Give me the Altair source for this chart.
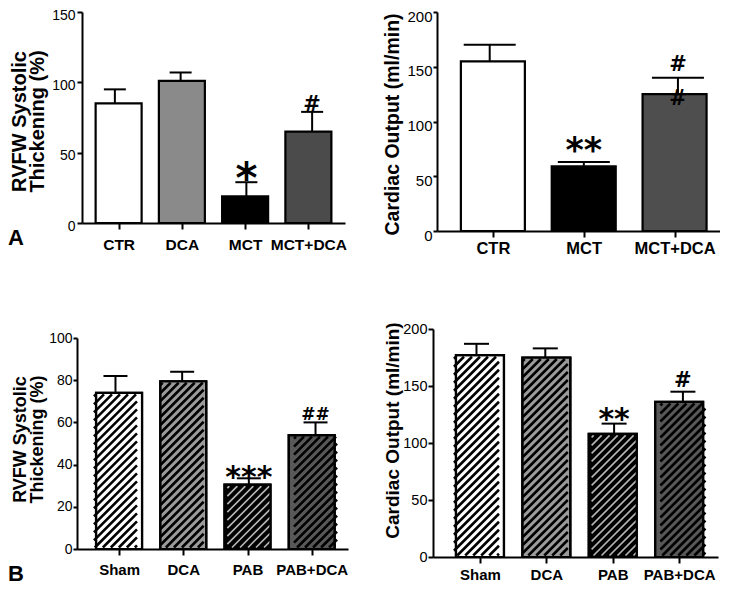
import json
import altair as alt
import numpy as np
import pandas as pd

# ---------------- data ----------------
a1_cats = ["CTR", "DCA", "MCT", "MCT+DCA"]
a1_vals = [85, 101, 19, 65]
a1_errs = [10, 6, 10, 14]
a1_sig = ["", "", "*", "#"]

a2_cats = ["CTR", "MCT", "MCT+DCA"]
a2_vals = [155, 59, 125]
a2_errs = [15, 4, 15]
a2_sig = ["", "**", "#"]
a2_sig_bar = ["", "", "#"]

b1_cats = ["Sham", "DCA", "PAB", "PAB+DCA"]
b1_vals = [74, 79.5, 30.5, 54]
b1_errs = [8, 4.5, 3, 6]
b1_sig = ["", "", "***", "##"]

b2_cats = ["Sham", "DCA", "PAB", "PAB+DCA"]
b2_vals = [177, 175, 108, 136]
b2_errs = [10, 8, 9, 9]
b2_sig = ["", "", "**", "#"]

title_rvfw = ["RVFW Systolic", "Thickening (%)"]
title_co = "Cardiac Output (ml/min)"

# ---------------- styles / layout ----------------
W, H = 712, 578
FONT = "Liberation Sans"
SIGFONT = "DejaVu Sans"

st_a1 = dict(xr=[74, 337], yr=[215, 4], xd=[-0.5, 3.5], ymax=150, yticks=[0, 50, 100, 150],
             bw=46, cap=22, fills=["white", "#8a8a8a", "black", "#4b4b4b"],
             title=title_rvfw, tfs=20, tlh=18, tx=-53, ty=113, ylfs=14, ytick=5, ylpad=2, yloff=3,
             xlfs=15.5, xlpad=8, sigfs={"*": 42, "#": 21}, gaps=[0, 0, 12, 8])
st_a2 = dict(xr=[429, 717], yr=[223, 4], xd=[-0.56, 2.5], ymax=200, yticks=[0, 50, 100, 150, 200],
             bw=64, cap=52, fills=["white", "black", "#4e4e4e"],
             title=title_co, tfs=19.5, tlh=20, tx=-35, ty=116, ylfs=15, ytick=4, ylpad=1, yloff=4,
             xlfs=16.5, xlpad=3, sigfs={"**": 35, "#": 21}, gaps=[0, 19, 14])
st_b1 = dict(xr=[69, 340], yr=[541, 330], xd=[-0.577, 3.487], ymax=100, yticks=[0, 20, 40, 60, 80, 100],
             bw=46, cap=24, fills=["white", "#9b9b9b", "black", "#585858"],
             hatch=["black", "black", "#b8b8b8", "black"], hw=[2.6, 2.6, 1.6, 2.6],
             title=title_rvfw, tfs=18, tlh=17, tx=-48, ty=431, ylfs=14, ytick=4, ylpad=1, yloff=0,
             xlfs=15, xlpad=7, sigfs={"***": 30, "##": 17}, gaps=[0, 0, 8, 9])
st_b2 = dict(xr=[425, 710], yr=[549, 321], xd=[-0.632, 3.51], ymax=200, yticks=[0, 50, 100, 150, 200],
             bw=48, cap=25, fills=["white", "#9b9b9b", "black", "#585858"],
             hatch=["black", "black", "#b8b8b8", "black"], hw=[2.6, 2.6, 1.6, 2.6],
             title=title_co, tfs=19, tlh=20, tx=-31, ty=422, ylfs=14.5, ytick=5, ylpad=1, yloff=0,
             xlfs=15, xlpad=4, sigfs={"**": 30, "#": 21}, gaps=[0, 0, 11, 12])

GLYPH_CENTER = {"*": 0.54, "#": 0.36}


def hatch_rows(vals, st, period=8.0, inset=1.5):
    xr, xd, yr, ymax = st["xr"], st["xd"], st["yr"], st["ymax"]
    sx = (xr[1] - xr[0]) / (xd[1] - xd[0])
    sy = (yr[0] - yr[1]) / ymax
    rows = []
    for i, v in enumerate(vals):
        cx = xr[0] + (i - xd[0]) * sx
        bx0, bx1 = cx - st["bw"] / 2 + inset, cx + st["bw"] / 2 - inset
        ytop, ybot = yr[0] - v * sy + inset, yr[0] - inset
        for c in np.arange(bx0 + ytop + 2, bx1 + ybot, period):
            lo = max(bx0, c - ybot)
            hi = min(bx1, c - ytop)
            if hi - lo < 0.6:
                continue
            rows.append(dict(
                hx=xd[0] + (lo - xr[0]) / sx, hy=(yr[0] - (c - lo)) / sy,
                hx2=xd[0] + (hi - xr[0]) / sx, hy2=(yr[0] - (c - hi)) / sy,
                hc=st["hatch"][i], hwid=st["hw"][i]))
    return pd.DataFrame(rows)


def panel(cats, vals, errs, sig, st, sig_bar=None):
    n = len(cats)
    df = pd.DataFrame({"i": list(range(n)), "v": vals, "e": errs, "fill": st["fills"]})
    xs = alt.Scale(domain=st["xd"], range=st["xr"], nice=False, zero=False)
    ys = alt.Scale(domain=[0, st["ymax"]], range=st["yr"], nice=False, zero=False)
    sx = (st["xr"][1] - st["xr"][0]) / (st["xd"][1] - st["xd"][0])
    half = st["cap"] / 2 / sx

    xaxis = alt.Axis(orient="bottom", offset=st["yr"][0] - H, values=list(range(n)),
                     labelExpr=json.dumps(cats) + "[datum.value]", title=None, grid=False,
                     domainColor="black", domainWidth=2, tickColor="black", tickWidth=2, tickSize=6,
                     labelFont=FONT, labelFontWeight="bold", labelFontSize=st["xlfs"],
                     labelColor="black", labelPadding=st["xlpad"], labelFlush=False,
                     labelOverlap=False)
    yaxis = alt.Axis(orient="left", offset=-st["xr"][0], values=st["yticks"], format="d",
                     title=st["title"], grid=False, domainColor="black", domainWidth=2,
                     tickColor="black", tickWidth=2, tickSize=st["ytick"],
                     labelFont=FONT, labelFontSize=st["ylfs"], labelColor="black",
                     labelPadding=st["ylpad"], labelOffset=st["yloff"],
                     labelFlush=False, labelOverlap=False,
                     titleFont=FONT, titleFontSize=st["tfs"], titleFontWeight="bold",
                     titleColor="black", titleAngle=270, titleAlign="center",
                     titleBaseline="bottom", titleX=st["tx"], titleY=st["ty"],
                     titleLineHeight=st["tlh"])

    base = alt.Chart(df)
    xq = alt.X("i:Q", scale=xs, axis=None)

    bars = base.mark_bar(orient="vertical", size=st["bw"], stroke="black", strokeWidth=2.2).encode(
        x=alt.X("i:Q", scale=xs, axis=xaxis),
        y=alt.Y("v:Q", scale=ys, axis=yaxis, stack=None),
        fill=alt.Fill("fill:N", scale=None),
    )
    layers = [bars]

    if "hatch" in st:
        hd = hatch_rows(vals, st)
        hatch = alt.Chart(hd).mark_rule(strokeCap="butt").encode(
            x=alt.X("hx:Q", scale=xs, axis=None), x2="hx2:Q",
            y=alt.Y("hy:Q", scale=ys, axis=None), y2="hy2:Q",
            color=alt.Color("hc:N", scale=None),
            strokeWidth=alt.StrokeWidth("hwid:Q", scale=None),
        )
        outline = base.mark_bar(orient="vertical", size=st["bw"], fillOpacity=0,
                                stroke="black", strokeWidth=2.2).encode(
            x=xq, y=alt.Y("v:Q", scale=ys, axis=None, stack=None))
        layers += [hatch, outline]

    err = base.transform_calculate(top="datum.v + datum.e").mark_rule(
        color="black", strokeWidth=2).encode(
        x=xq, y=alt.Y("v:Q", scale=ys, axis=None), y2="top:Q")
    cap = base.transform_calculate(top="datum.v + datum.e", l=f"datum.i - {half}",
                                   r=f"datum.i + {half}").mark_rule(
        color="black", strokeWidth=2, strokeCap="butt").encode(
        x=alt.X("l:Q", scale=xs, axis=None), x2="r:Q", y=alt.Y("top:Q", scale=ys, axis=None))
    layers += [err, cap]

    def sig_layer(i, text, ref, gap):
        fs = st["sigfs"][text]
        k = GLYPH_CENTER[text[0]]
        sd = pd.DataFrame({"i": [i], "ref": [ref], "t": [text]})
        return alt.Chart(sd).mark_text(font=SIGFONT, fontWeight="bold", fontSize=fs,
                                       color="black", baseline="alphabetic", align="center",
                                       dy=-gap + k * fs).encode(
            x=alt.X("i:Q", scale=xs, axis=None), y=alt.Y("ref:Q", scale=ys, axis=None),
            text="t:N")

    for i, s in enumerate(sig):
        if s:
            layers.append(sig_layer(i, s, vals[i] + errs[i], st["gaps"][i]))
    if sig_bar:
        for i, s in enumerate(sig_bar):
            if s:
                layers.append(sig_layer(i, s, vals[i], -3))
    return layers


layers = []
layers += panel(a1_cats, a1_vals, a1_errs, a1_sig, st_a1)
layers += panel(a2_cats, a2_vals, a2_errs, a2_sig, st_a2, sig_bar=a2_sig_bar)
layers += panel(b1_cats, b1_vals, b1_errs, b1_sig, st_b1)
layers += panel(b2_cats, b2_vals, b2_errs, b2_sig, st_b2)

letters = pd.DataFrame({"t": ["A", "B"], "px": [0, 0], "py": [237, 573]})
for _, r in letters.iterrows():
    layers.append(alt.Chart(pd.DataFrame({"t": [r["t"]]})).mark_text(
        font=FONT, fontWeight="bold", fontSize=22, color="black", align="left",
        baseline="alphabetic").encode(x=alt.value(float(r["px"])), y=alt.value(float(r["py"])),
                                      text="t:N"))

chart = alt.layer(*layers).resolve_scale(
    x="independent", y="independent", fill="independent", color="independent",
    strokeWidth="independent").resolve_axis(x="independent", y="independent").properties(
    width=W, height=H, autosize=alt.AutoSizeParams(type="none"), padding=0,
    background="white").configure_view(stroke=None)

chart.save("out.html", embed_options={"renderer": "svg", "actions": False})
